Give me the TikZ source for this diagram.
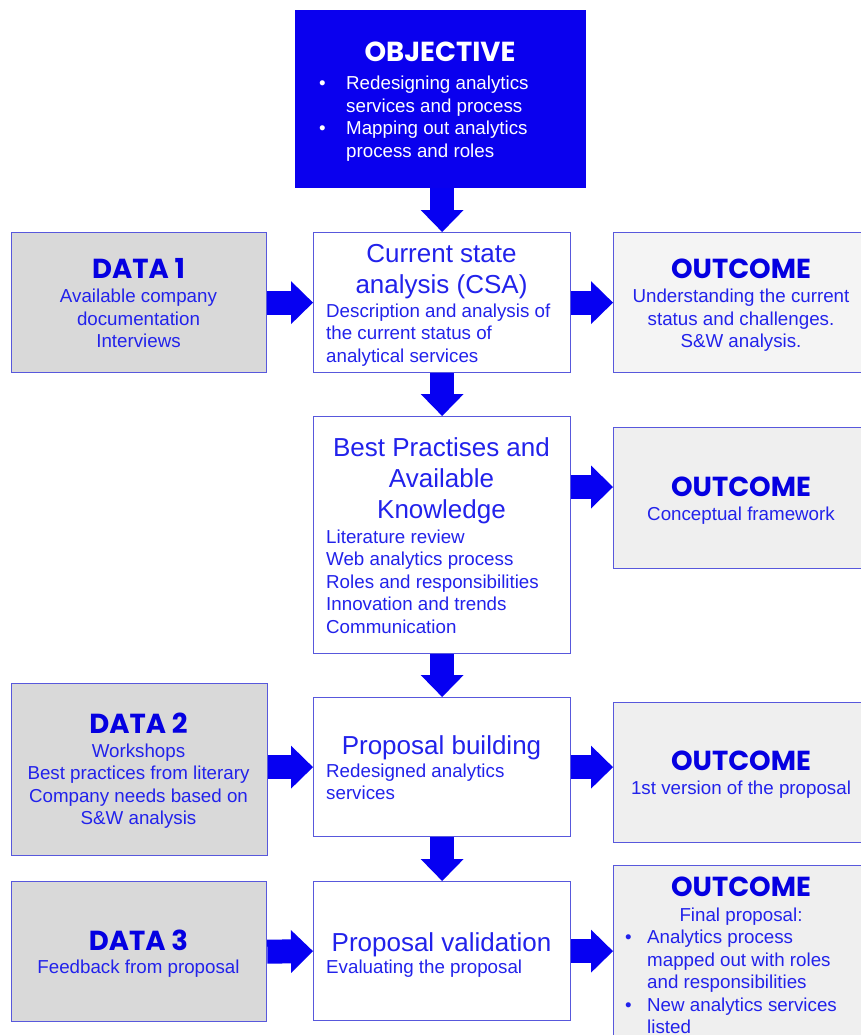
\documentclass[tikz,border=0pt]{standalone}
\usepackage{fontspec}
\setmainfont{Liberation Sans}
\newfontfamily\headfont{Poppins}
\usetikzlibrary{arrows.meta}

\definecolor{objblue}{RGB}{10,0,238}
\definecolor{arrowblue}{RGB}{6,0,242}
\definecolor{boxline}{RGB}{88,88,220}
\definecolor{textblue}{RGB}{34,34,235}
\definecolor{headblue}{RGB}{5,0,225}
\definecolor{datagray}{RGB}{217,217,217}
\definecolor{outgray}{RGB}{239,239,239}

\tikzset{
  box/.style={draw=boxline, line width=1.3pt, inner sep=0pt, anchor=north west},
  procbox/.style={box, fill=white},
  databox/.style={box, fill=datagray},
  outbox/.style={box, fill=outgray},
  objbox/.style={box, fill=objblue, draw=objblue},
  head/.style={anchor=base, inner sep=0pt, text=headblue,
    font=\headfont\bfseries\fontsize{27.5}{33}\selectfont},
  body/.style={anchor=base, inner sep=0pt, text=textblue,
    font=\fontsize{18.75}{22.5}\selectfont},
  bodyleft/.style={body, anchor=base west},
  title/.style={anchor=base, inner sep=0pt, text=textblue,
    font=\fontsize{26}{31}\selectfont},
  bigarrow/.style={draw=arrowblue, line width=24pt,
    -{Triangle[width=43pt, length=22pt, line width=0pt]}},
}

\begin{document}
\begin{tikzpicture}[x=1pt, y=-1pt]
  \useasboundingbox (0,0) rectangle (861,1035);
  \clip (0,0) rectangle (861,1035);
  \fill[white] (0,0) rectangle (861,1035);

  % ---- boxes ----
  \node[objbox,  minimum width=290pt, minimum height=177pt] (obj) at (295,10) {};
  \node[databox, minimum width=255pt, minimum height=140pt] (d1)  at (11,232) {};
  \node[procbox, minimum width=257pt, minimum height=140pt] (csa) at (313,232) {};
  \node[outbox,  minimum width=260pt, minimum height=140pt, fill=outgray!70!white] (o1) at (613,232) {};
  \node[procbox, minimum width=257pt, minimum height=237pt] (bp)  at (313,416) {};
  \node[outbox,  minimum width=260pt, minimum height=141pt] (o2)  at (613,427) {};
  \node[databox, minimum width=256pt, minimum height=172pt] (d2)  at (11,683) {};
  \node[procbox, minimum width=257pt, minimum height=139pt] (pb)  at (313,697) {};
  \node[outbox,  minimum width=260pt, minimum height=140pt] (o3)  at (613,702) {};
  \node[databox, minimum width=255pt, minimum height=140pt] (d3)  at (11,881) {};
  \node[procbox, minimum width=257pt, minimum height=139pt] (pv)  at (313,881) {};
  \node[outbox,  minimum width=260pt, minimum height=200pt] (o4)  at (613,865) {};

  % ---- objective ----
  \node[head, text=white] (objh) at (440,62) {OBJECTIVE};
  \node[body, anchor=base west, text=white] (objb1) at (319,90) {•};
  \node[body, anchor=base west, text=white] (objb2) at (319,135) {•};
  \foreach \t [count=\i] in {Redesigning analytics, services and process,
      Mapping out analytics, process and roles}
    \node[bodyleft, text=white] (objt\i) at (346,{90+22.5*(\i-1)}) {\t};

  % ---- current state analysis ----
  \node[title] (csat1) at (441.5,262) {Current state};
  \node[title] (csat2) at (441.5,293) {analysis (CSA)};
  \foreach \t [count=\i] in {Description and analysis of, the current status of,
      analytical services}
    \node[bodyleft] (csab\i) at (326,{317+22.5*(\i-1)}) {\t};

  % ---- data 1 ----
  \node[head] (d1h) at (138.5,278) {DATA 1};
  \foreach \t [count=\i] in {Available company, documentation, Interviews}
    \node[body] (d1b\i) at (138.5,{302.5+22.5*(\i-1)}) {\t};

  % ---- outcome 1 ----
  \node[head] (o1h) at (741,278) {OUTCOME};
  \foreach \t [count=\i] in {Understanding the current, status and challenges.,
      S\&W analysis.}
    \node[body] (o1b\i) at (741,{302.5+22.5*(\i-1)}) {\t};

  % ---- best practises ----
  \foreach \t [count=\i] in {Best Practises and, Available, Knowledge}
    \node[title] (bpt\i) at (441.5,{456+31*(\i-1)}) {\t};
  \foreach \t [count=\i] in {Literature review, Web analytics process,
      Roles and responsibilities, Innovation and trends, Communication}
    \node[bodyleft] (bpb\i) at (326,{543+22.5*(\i-1)}) {\t};

  % ---- outcome 2 ----
  \node[head] (o2h) at (741,496) {OUTCOME};
  \node[body] (o2b) at (741,520) {Conceptual framework};

  % ---- data 2 ----
  \node[head] (d2h) at (138.5,733) {DATA 2};
  \foreach \t [count=\i] in {Workshops, Best practices from literary,
      Company needs based on, S\&W analysis}
    \node[body] (d2b\i) at (138.5,{757+22.5*(\i-1)}) {\t};

  % ---- proposal building ----
  \node[title] (pbt) at (441.5,754) {Proposal building};
  \node[bodyleft] (pbb1) at (326,777) {Redesigned analytics};
  \node[bodyleft] (pbb2) at (326,799.5) {services};

  % ---- outcome 3 ----
  \node[head] (o3h) at (741,770) {OUTCOME};
  \node[body] (o3b) at (741,794) {1st version of the proposal};

  % ---- data 3 ----
  \node[head] (d3h) at (138.5,950) {DATA 3};
  \node[body] (d3b) at (138.5,973) {Feedback from proposal};

  % ---- proposal validation ----
  \node[title] (pvt) at (441.5,951) {Proposal validation};
  \node[bodyleft] (pvb) at (326,973) {Evaluating the proposal};

  % ---- outcome 4 ----
  \node[head] (o4h) at (741,896) {OUTCOME};
  \node[body] (o4b) at (741,921) {Final proposal:};
  \node[bodyleft] (o4d1) at (625,943.5) {•};
  \node[bodyleft] (o4d2) at (625,1011) {•};
  \foreach \t [count=\i] in {Analytics process, mapped out with roles,
      and responsibilities, New analytics services, listed}
    \node[bodyleft] (o4t\i) at (647,{943.5+22.5*(\i-1)}) {\t};

  % ---- connectors ----
  \draw[bigarrow] (obj.south -| csa.north) -- (csa.north);
  \draw[bigarrow] (csa.south) -- (bp.north);
  \draw[bigarrow] (bp.south) -- (pb.north);
  \draw[bigarrow] (pb.south) -- (pv.north);

  \draw[bigarrow] (d1.east) -- (csa.west);
  \draw[bigarrow] (csa.east) -- (o1.west);
  \draw[bigarrow] (bp.east |- 0,487) -- (o2.west |- 0,487);
  \draw[bigarrow] (d2.east |- pb.west) -- (pb.west);
  \draw[bigarrow] (pb.east) -- (o3.west |- pb.east);
  \draw[bigarrow] (d3.east) -- (pv.west);
  \draw[bigarrow] (pv.east) -- (o4.west |- pv.east);
\end{tikzpicture}
\end{document}
